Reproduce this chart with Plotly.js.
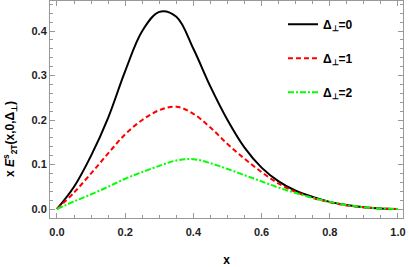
<!DOCTYPE html>
<html>
<head>
<meta charset="utf-8">
<script src="https://cdn.plot.ly/plotly-3.0.1.min.js"></script>
<style>html,body{margin:0;padding:0;background:#fff;}#chart{width:409px;height:267px;}</style>
</head>
<body>
<div id="chart"></div>
<script>
const xVals = [0, 0.05, 0.1, 0.15, 0.2, 0.25, 0.3, 0.35, 0.4, 0.45, 0.5, 0.55, 0.6, 0.65, 0.7, 0.75, 0.8, 0.85, 0.9, 0.95, 1.0];
const delta0 = [0, 0.05, 0.12, 0.205, 0.31, 0.40, 0.443, 0.432, 0.36, 0.275, 0.2, 0.138, 0.093, 0.062, 0.041, 0.027, 0.016, 0.009, 0.004, 0.001, 0];
const delta1 = [0, 0.037, 0.08, 0.125, 0.168, 0.2, 0.222, 0.23, 0.214, 0.183, 0.146, 0.113, 0.083, 0.057, 0.038, 0.025, 0.015, 0.008, 0.004, 0.001, 0];
const delta2 = [0, 0.017, 0.033, 0.05, 0.068, 0.083, 0.097, 0.109, 0.112, 0.103, 0.09, 0.076, 0.062, 0.048, 0.036, 0.025, 0.016, 0.009, 0.004, 0.001, 0];
const seriesNames = ["Δ<sub>⊥</sub>=0", "Δ<sub>⊥</sub>=1", "Δ<sub>⊥</sub>=2"];
const xTicks = [0, 0.2, 0.4, 0.6, 0.8, 1.0];
const yTicks = [0, 0.1, 0.2, 0.3, 0.4];

const fontFam = "Liberation Sans, Arial, sans-serif";
const traces = [
  {x: xVals, y: delta0, name: seriesNames[0], legendgroup: "a", mode: "lines",
   line: {color: "#000000", width: 2, shape: "spline", smoothing: 1}},
  {x: xVals, y: delta1, name: seriesNames[1], legendgroup: "b", mode: "lines",
   line: {color: "#ff0000", width: 2, dash: "5px,3px", shape: "spline", smoothing: 1}},
  {x: xVals, y: delta2, name: seriesNames[2], legendgroup: "c", mode: "lines",
   line: {color: "#00ff00", width: 2, dash: "6px,2px,2px,2px", shape: "spline", smoothing: 1}}
];

const axisCommon = {
  showgrid: false, zeroline: false, showline: true, linecolor: "#999999", linewidth: 1,
  mirror: "allticks", ticks: "inside", ticklen: 5, tickcolor: "#999999", tickwidth: 1,
  tickfont: {family: fontFam, size: 11, color: "#222222", weight: "bold"}
};

const layout = {
  width: 409, height: 267,
  margin: {l: 50, r: 6, t: 1, b: 49},
  paper_bgcolor: "#ffffff", plot_bgcolor: "#ffffff",
  showlegend: true,
  legend: {x: 0.66, y: 0.96, xanchor: "left", yanchor: "top", bgcolor: "rgba(0,0,0,0)",
           font: {family: fontFam, size: 12, color: "#000000", weight: "bold"},
           tracegroupgap: 15, traceorder: "grouped"},
  xaxis: Object.assign({}, axisCommon, {
    range: [-0.0205, 1.0147], tickvals: xTicks, ticktext: xTicks.map(v => v.toFixed(1)),
    ticklabelstandoff: 4,
    minor: {dtick: 0.05, tick0: 0, ticks: "inside", ticklen: 3, tickcolor: "#999999", tickwidth: 1},
    title: {text: "x", font: {family: fontFam, size: 12, color: "#000000", weight: "bold"}, standoff: 19}
  }),
  yaxis: Object.assign({}, axisCommon, {
    range: [-0.0202, 0.4674], tickvals: yTicks, ticktext: yTicks.map(v => v.toFixed(1)),
    minor: {dtick: 0.02, tick0: 0, ticks: "inside", ticklen: 3, tickcolor: "#999999", tickwidth: 1}
  }),
  annotations: [{
    xref: "paper", yref: "paper", x: 0, y: 0.364, xshift: -40, xanchor: "center", yanchor: "middle",
    textangle: -90, showarrow: false,
    text: "x <i>E</i><sup>s</sup><sub>2T</sub>(x,0,Δ<sub>⊥</sub>)",
    font: {family: fontFam, size: 12, color: "#000000", weight: "bold"}
  }]
};

Plotly.newPlot("chart", traces, layout, {displayModeBar: false, staticPlot: true});
</script>
</body>
</html>
